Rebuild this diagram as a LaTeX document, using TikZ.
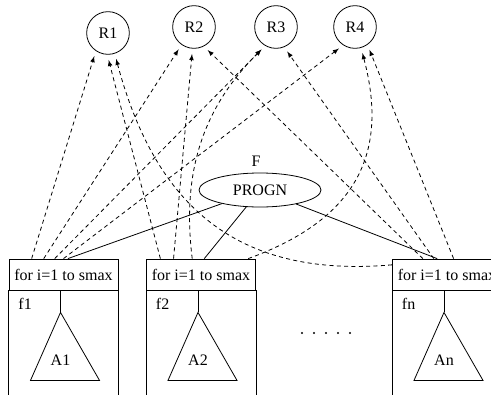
\documentclass[tikz,border=0pt]{standalone}
\usepackage{fontspec}
\setmainfont{Liberation Serif}
\usetikzlibrary{shapes.geometric,positioning,calc}

\tikzset{
  reg/.style={draw,circle,minimum size=32pt,inner sep=0pt},
  loophdr/.style={draw,rectangle,minimum width=81.75pt,minimum height=23.25pt,inner sep=0pt},
  access/.style={dash pattern=on 3pt off 2.5pt,-latex,shorten >=4pt},
}

\begin{document}
\begin{tikzpicture}[x=0.75pt,y=0.75pt,font=\fontsize{12}{14}\selectfont,semithick]
  \useasboundingbox (0,0) rectangle (491,394);
  % registers
  \node[reg] (r1) at (108,361) {R1};
  \node[reg] (r2) at (194,367) {R2};
  \node[reg] (r3) at (276,367) {R3};
  \node[reg] (r4) at (355,367) {R4};
  % top level function
  \node[draw,ellipse,minimum width=91.5pt,minimum height=25.5pt,inner sep=0pt] (progn) at (260,204) {PROGN};
  \node[above=1pt of progn,xshift=-3pt] (fname) {F};
  % loop headers
  \node[loophdr] (hdr1) at (63.5,119.5) {for i=1 to smax};
  \node[loophdr] (hdr2) at (201,119.5) {for i=1 to smax};
  \node[loophdr] (hdr3) at (447,119.5) {for i=1 to smax};
  % loop bodies with their subtrees
  \foreach \b/\sub/\fn in {1/A1/f1,2/A2/f2,3/An/fn}{
    \draw (hdr\b.south west) -- ++(0,-110);
    \draw (hdr\b.south east) -- ++(0,-110);
    \coordinate (apex\b) at ($(hdr\b.south)+(-3,-22)$);
    \draw (apex\b |- hdr\b.south) -- (apex\b);
    \draw (apex\b) -- ++(-30,-68) -- ++(69,0) -- cycle;
    \node (tree\b) at ($(apex\b)+(0,-48)$) {\sub};
    \node[anchor=west] (fun\b) at ($(hdr\b.south west)+(5,-13)$) {\fn};
  }
  % more loops in between
  \foreach \i in {0,...,4}
    \fill (302+12*\i,61) circle (0.9pt);
  % access points on top of the headers
  \foreach \b/\k/\t in {1/1/0.21,1/2/0.32,1/3/0.42,1/4/0.5,1/p/0.54,
                        2/1/0.13,2/2/0.25,2/3/0.42,2/p/0.53,2/4/0.93,
                        3/2/0.28,3/3/0.38,3/p/0.41,3/4/0.56}
    \coordinate (t\b-\k) at ($(hdr\b.north west)!\t!(hdr\b.north east)$);
  % PROGN calls the loops
  \foreach \b in {1,2,3}
    \draw (progn) -- (t\b-p);
  % register accesses
  \foreach \b/\r/\a in {1/1/236,1/2/235,1/3/240,1/4/237,2/1/268,2/2/266,
                        3/2/297,3/3/292,3/4/305}
    \draw[access] (t\b-\r) -- (r\r.\a);
  \draw[access] (t2-3) to[out=97,in=225] (r3.240);
  \draw[access] (t2-4) to[out=20,in=285,looseness=1.2] (r4.286);
  \draw[access] (hdr3.170) to[out=185,in=285,looseness=1.15] (r1.288);
\end{tikzpicture}
\end{document}
